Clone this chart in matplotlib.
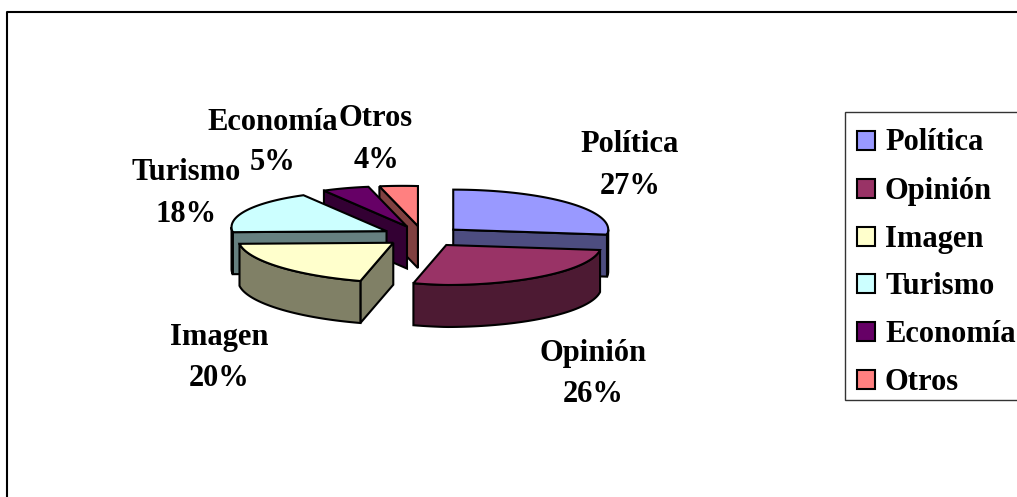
import numpy as np
import matplotlib
matplotlib.use('Agg')
import matplotlib.pyplot as plt
from matplotlib.patches import Polygon, Rectangle

categories = ['Política', 'Opinión', 'Imagen', 'Turismo', 'Economía', 'Otros']
# the slices are not exact whole percents, labels round them
values = [27, 26.4, 19.6, 18, 5, 4]
top_colors = ['#9999FF', '#993366', '#FFFFCC', '#CCFFFF', '#660066', '#FF8080']
wall_colors = ['#4D4D80', '#4D1A33', '#808066', '#668080', '#330033', '#804040']

# where the labels sit, in pixels
label_xy = [(630, 145), (593, 353), (219, 337), (186, 173), (273, 122), (376, 119)]
legend_y = [140, 188, 236, 283, 331, 379]

# pie geometry, in pixels
cx, cy = 423, 236.5
rx, ry = 155, 40
depth = 42
explode = 0.26
left_lift = 4  # left half of the ellipse sits a bit higher

plt.rcParams['font.family'] = ['Liberation Serif', 'DejaVu Serif']

fig = plt.figure(figsize=(10.17, 4.97), dpi=100)
ax = fig.add_axes([0, 0, 1, 1])
ax.set_xlim(0, 1017)
ax.set_ylim(497, 0)
ax.axis('off')

# outer frame, runs off the right and bottom of the crop
ax.plot([7, 7, 1017], [497, 12, 12], color='black', lw=1.5)


def point(ox, oy, deg):
    a = np.radians(deg)
    s = np.sin(a)
    return ox + rx * s, oy - ry * np.cos(a) + left_lift * np.minimum(s, 0)


def arc(ox, oy, d0, d1):
    t = np.linspace(d0, d1, 60)
    return np.column_stack(point(ox, oy, t))


def extrude(pts):
    low = pts[::-1] + [0, depth]
    return np.vstack([pts, low])


starts = np.cumsum([0] + values[:-1]) * 3.6
ends = np.cumsum(values) * 3.6

# back slices first, front ones last
for i in [0, 5, 4, 3, 2, 1]:
    d0, d1 = starts[i], ends[i]
    mid = (d0 + d1) / 2
    ox, oy = point(cx, cy, mid)[0], point(cx, cy, mid)[1]
    ox = cx + (ox - cx) * explode
    oy = cy + (oy - cy) * explode
    style = dict(edgecolor='black', lw=1.5, joinstyle='miter')

    # cut faces that look to the viewer
    if 180 < d0 < 360:
        face = np.array([(ox, oy), point(ox, oy, d0)])
        ax.add_patch(Polygon(extrude(face), facecolor=wall_colors[i], **style))
    if 0 < d1 < 180:
        face = np.array([(ox, oy), point(ox, oy, d1)])
        ax.add_patch(Polygon(extrude(face), facecolor=wall_colors[i], **style))

    # rim, only the front half of the ellipse
    w0, w1 = max(d0, 90), min(d1, 270)
    if w0 < w1:
        ax.add_patch(Polygon(extrude(arc(ox, oy, w0, w1)), facecolor=wall_colors[i], **style))

    top = np.vstack([[(ox, oy)], arc(ox, oy, d0, d1)])
    ax.add_patch(Polygon(top, facecolor=top_colors[i], **style))

# data labels
for name, val, (x, y) in zip(categories, values, label_xy):
    ax.text(x, y, name, fontsize=22, fontweight='bold', ha='center', va='center')
    ax.text(x, y + 41, f'{round(val)}%', fontsize=22, fontweight='bold', ha='center', va='center')

# legend box
ax.add_patch(Rectangle((845, 112), 200, 288, facecolor='white', edgecolor='#333333', lw=1))
for name, col, y in zip(categories, top_colors, legend_y):
    ax.add_patch(Rectangle((856.5, y - 9.5), 18, 19, facecolor=col, edgecolor='black', lw=1.5))
    ax.text(885, y + 3, name, fontsize=22, fontweight='bold', ha='left', va='center')

fig.savefig('out.png', dpi=100)
